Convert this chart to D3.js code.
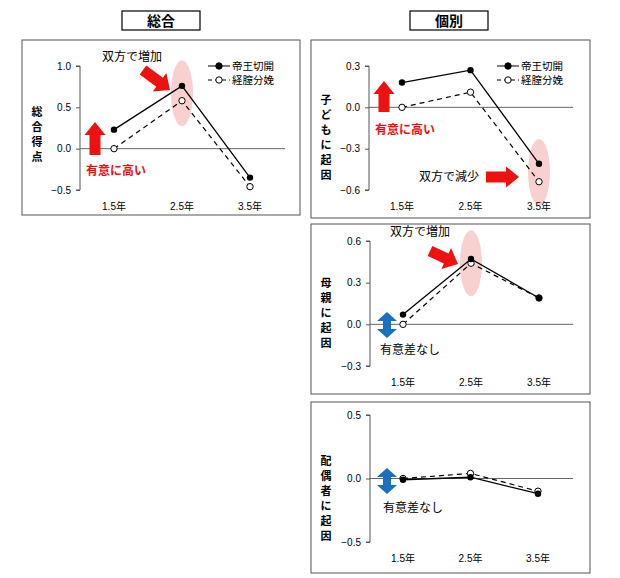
<!DOCTYPE html>
<html><head><meta charset="utf-8">
<script src="https://cdn.jsdelivr.net/npm/d3@7"></script>
<style>body{margin:0;background:#fff}text{font-family:"Liberation Sans","Noto Sans CJK JP",sans-serif}</style>
</head><body>
<script>
// data
var years = ["1.5年", "2.5年", "3.5年"];
var seriesNames = ["帝王切開", "経膣分娩"];
var totalCS = [0.23, 0.76, -0.35], totalVag = [0.0, 0.58, -0.46];
var childCS = [0.18, 0.27, -0.41], childVag = [0.0, 0.11, -0.54];
var motherCS = [0.07, 0.47, 0.19], motherVag = [0.0, 0.44, 0.19];
var spouseCS = [-0.01, 0.01, -0.12], spouseVag = [0.0, 0.04, -0.10];

var svg = d3.select("body").append("svg").attr("width", 620).attr("height", 578);
var font = '"Liberation Sans","Noto Sans CJK JP",sans-serif';

// header boxes
[["総合", 122, 200], ["個別", 410, 488]].forEach(function(h) {
  svg.append("rect").attr("x", h[1]).attr("y", 11).attr("width", h[2] - h[1]).attr("height", 19)
    .attr("fill", "none").attr("stroke", "#000").attr("stroke-width", 1.2);
  svg.append("text").attr("x", (h[1] + h[2]) / 2).attr("y", 26).attr("text-anchor", "middle")
    .attr("font-size", 14).attr("font-weight", "bold").text(h[0]);
});

function blockArrow(g, x1, y1, x2, y2, shaft, head, headLen, color) {
  var a = Math.atan2(y2 - y1, x2 - x1), L = Math.hypot(x2 - x1, y2 - y1);
  var pts = [[0, -shaft / 2], [L - headLen, -shaft / 2], [L - headLen, -head / 2], [L, 0],
    [L - headLen, head / 2], [L - headLen, shaft / 2], [0, shaft / 2]];
  g.append("polygon").attr("fill", color)
    .attr("points", pts.map(function(p) {
      return [x1 + p[0] * Math.cos(a) - p[1] * Math.sin(a), y1 + p[0] * Math.sin(a) + p[1] * Math.cos(a)].join(",");
    }).join(" "));
}
function doubleArrow(g, cx, cy, h, w, color) {
  var s = 8, hl = 9;
  g.append("polygon").attr("fill", color).attr("points", [
    [cx, cy - h / 2], [cx + w / 2, cy - h / 2 + hl], [cx + s / 2, cy - h / 2 + hl], [cx + s / 2, cy + h / 2 - hl],
    [cx + w / 2, cy + h / 2 - hl], [cx, cy + h / 2], [cx - w / 2, cy + h / 2 - hl], [cx - s / 2, cy + h / 2 - hl],
    [cx - s / 2, cy - h / 2 + hl], [cx - w / 2, cy - h / 2 + hl]].map(String).join(" "));
}

function panel(p) {
  var g = svg.append("g");
  g.append("rect").attr("x", p.box[0]).attr("y", p.box[1]).attr("width", p.box[2] - p.box[0])
    .attr("height", p.box[3] - p.box[1]).attr("fill", "none").attr("stroke", "#555").attr("stroke-width", 1);
  var x = d3.scalePoint().domain(years).range(p.xr);
  var y = d3.scaleLinear().domain(p.dom).range(p.yr);
  var step = x.step();
  // ellipse highlight behind
  if (p.ell) g.append("ellipse").attr("cx", x(years[p.ell[0]])).attr("cy", y(p.ell[1]))
    .attr("rx", 11).attr("ry", 33).attr("fill", "#f8c8c8").attr("opacity", 0.85);
  var ax = d3.axisLeft(y).tickValues(p.ticks).tickSize(4).tickFormat(d3.format(".1f"));
  var ag = g.append("g").attr("transform", "translate(" + p.ax + ",0)").call(ax);
  ag.select(".domain").attr("stroke", "#555").attr("d", "M-4," + y(p.dom[1]) + "H0V" + y(p.dom[0]) + "H-4");
  ag.selectAll("line").attr("stroke", "#555");
  ag.selectAll("text").attr("font-size", 10).attr("font-family", font).attr("fill", "#000").attr("x", -9);
  g.append("line").attr("x1", p.ax).attr("x2", p.xend).attr("y1", y(0)).attr("y2", y(0)).attr("stroke", "#666");
  years.forEach(function(yr) {
    g.append("text").attr("x", x(yr)).attr("y", p.yr[0] + 20).attr("text-anchor", "middle")
      .attr("font-size", 10).text(yr);
  });
  // y label vertical
  p.label.split("").forEach(function(c, i) {
    g.append("text").attr("x", p.lx).attr("y", p.ly + i * 15).attr("text-anchor", "middle")
      .attr("font-size", 11).attr("font-weight", "bold").text(c);
  });
  var line = d3.line().x(function(d, i) { return x(years[i]); }).y(function(d) { return y(d); });
  g.append("path").datum(p.vag).attr("d", line).attr("fill", "none").attr("stroke", "#000")
    .attr("stroke-width", 1.2).attr("stroke-dasharray", "5,4");
  g.append("path").datum(p.cs).attr("d", line).attr("fill", "none").attr("stroke", "#000").attr("stroke-width", 1.3);
  g.selectAll(".v").data(p.vag).enter().append("circle").attr("cx", function(d, i) { return x(years[i]); })
    .attr("cy", y).attr("r", 3.2).attr("fill", "#fff").attr("stroke", "#000");
  g.selectAll(".c").data(p.cs).enter().append("circle").attr("cx", function(d, i) { return x(years[i]); })
    .attr("cy", y).attr("r", 3.2).attr("fill", "#000");
  if (p.legend) {
    seriesNames.forEach(function(n, i) {
      var ly = p.legend[1] + i * 14;
      g.append("line").attr("x1", p.legend[0]).attr("x2", p.legend[0] + 22).attr("y1", ly).attr("y2", ly)
        .attr("stroke", "#000").attr("stroke-dasharray", i ? "4,3" : null);
      g.append("circle").attr("cx", p.legend[0] + 11).attr("cy", ly).attr("r", 3.2)
        .attr("fill", i ? "#fff" : "#000").attr("stroke", "#000");
      g.append("text").attr("x", p.legend[0] + 24).attr("y", ly + 4).attr("font-size", 10.5).text(n);
    });
  }
  if (p.extra) p.extra(g, x, y);
}

var red = "#ee1111", blue = "#1a6fc0";

panel({box: [22, 40, 300, 215], xr: [114, 250], yr: [190, 66], dom: [-0.5, 1.0], ticks: [-0.5, 0, 0.5, 1.0],
  ax: 80, xend: 285, label: "総合得点", lx: 37, ly: 116, cs: totalCS, vag: totalVag, ell: [1, 0.67],
  legend: [208, 66], extra: function(g, x, y) {
    blockArrow(g, 95, 155, 95, 122, 11, 21, 13, red);
    g.append("text").attr("x", 86).attr("y", 175).attr("font-size", 12).attr("font-weight", "bold")
      .attr("fill", red).text("有意に高い");
    blockArrow(g, 143, 70, 170, 90, 11, 23, 13, red);
    g.append("text").attr("x", 102).attr("y", 61).attr("font-size", 12).text("双方で増加");
  }});

panel({box: [311, 40, 590, 218], xr: [402, 539], yr: [190, 66], dom: [-0.6, 0.3], ticks: [-0.6, -0.3, 0, 0.3],
  ax: 369, xend: 573, label: "子どもに起因", lx: 326, ly: 104, cs: childCS, vag: childVag, ell: [2, -0.47],
  legend: [497, 66], extra: function(g, x, y) {
    blockArrow(g, 384, 112, 384, 81, 11, 21, 13, red);
    g.append("text").attr("x", 375).attr("y", 134).attr("font-size", 12).attr("font-weight", "bold")
      .attr("fill", red).text("有意に高い");
    blockArrow(g, 486, 177, 519, 177, 11, 21, 13, red);
    g.append("text").attr("x", 419).attr("y", 181).attr("font-size", 12).text("双方で減少");
  }});

panel({box: [311, 224, 590, 394], xr: [403, 539], yr: [366, 241], dom: [-0.3, 0.6], ticks: [-0.3, 0, 0.3, 0.6],
  ax: 370, xend: 573, label: "母親に起因", lx: 326, ly: 287, cs: motherCS, vag: motherVag, ell: [1, 0.44],
  extra: function(g, x, y) {
    doubleArrow(g, 387, 325, 26, 20, blue);
    g.append("text").attr("x", 380).attr("y", 354).attr("font-size", 12).text("有意差なし");
    blockArrow(g, 430, 251, 458, 264, 11, 23, 13, red);
    g.append("text").attr("x", 390).attr("y", 236).attr("font-size", 12).text("双方で増加");
  }});

panel({box: [311, 402, 590, 573], xr: [403, 538], yr: [542, 415], dom: [-0.5, 0.5], ticks: [-0.5, 0, 0.5],
  ax: 370, xend: 573, label: "配偶者に起因", lx: 326, ly: 465, cs: spouseCS, vag: spouseVag,
  extra: function(g, x, y) {
    doubleArrow(g, 387, 481, 26, 20, blue);
    g.append("text").attr("x", 383).attr("y", 512).attr("font-size", 12).text("有意差なし");
  }});
</script>
</body></html>
